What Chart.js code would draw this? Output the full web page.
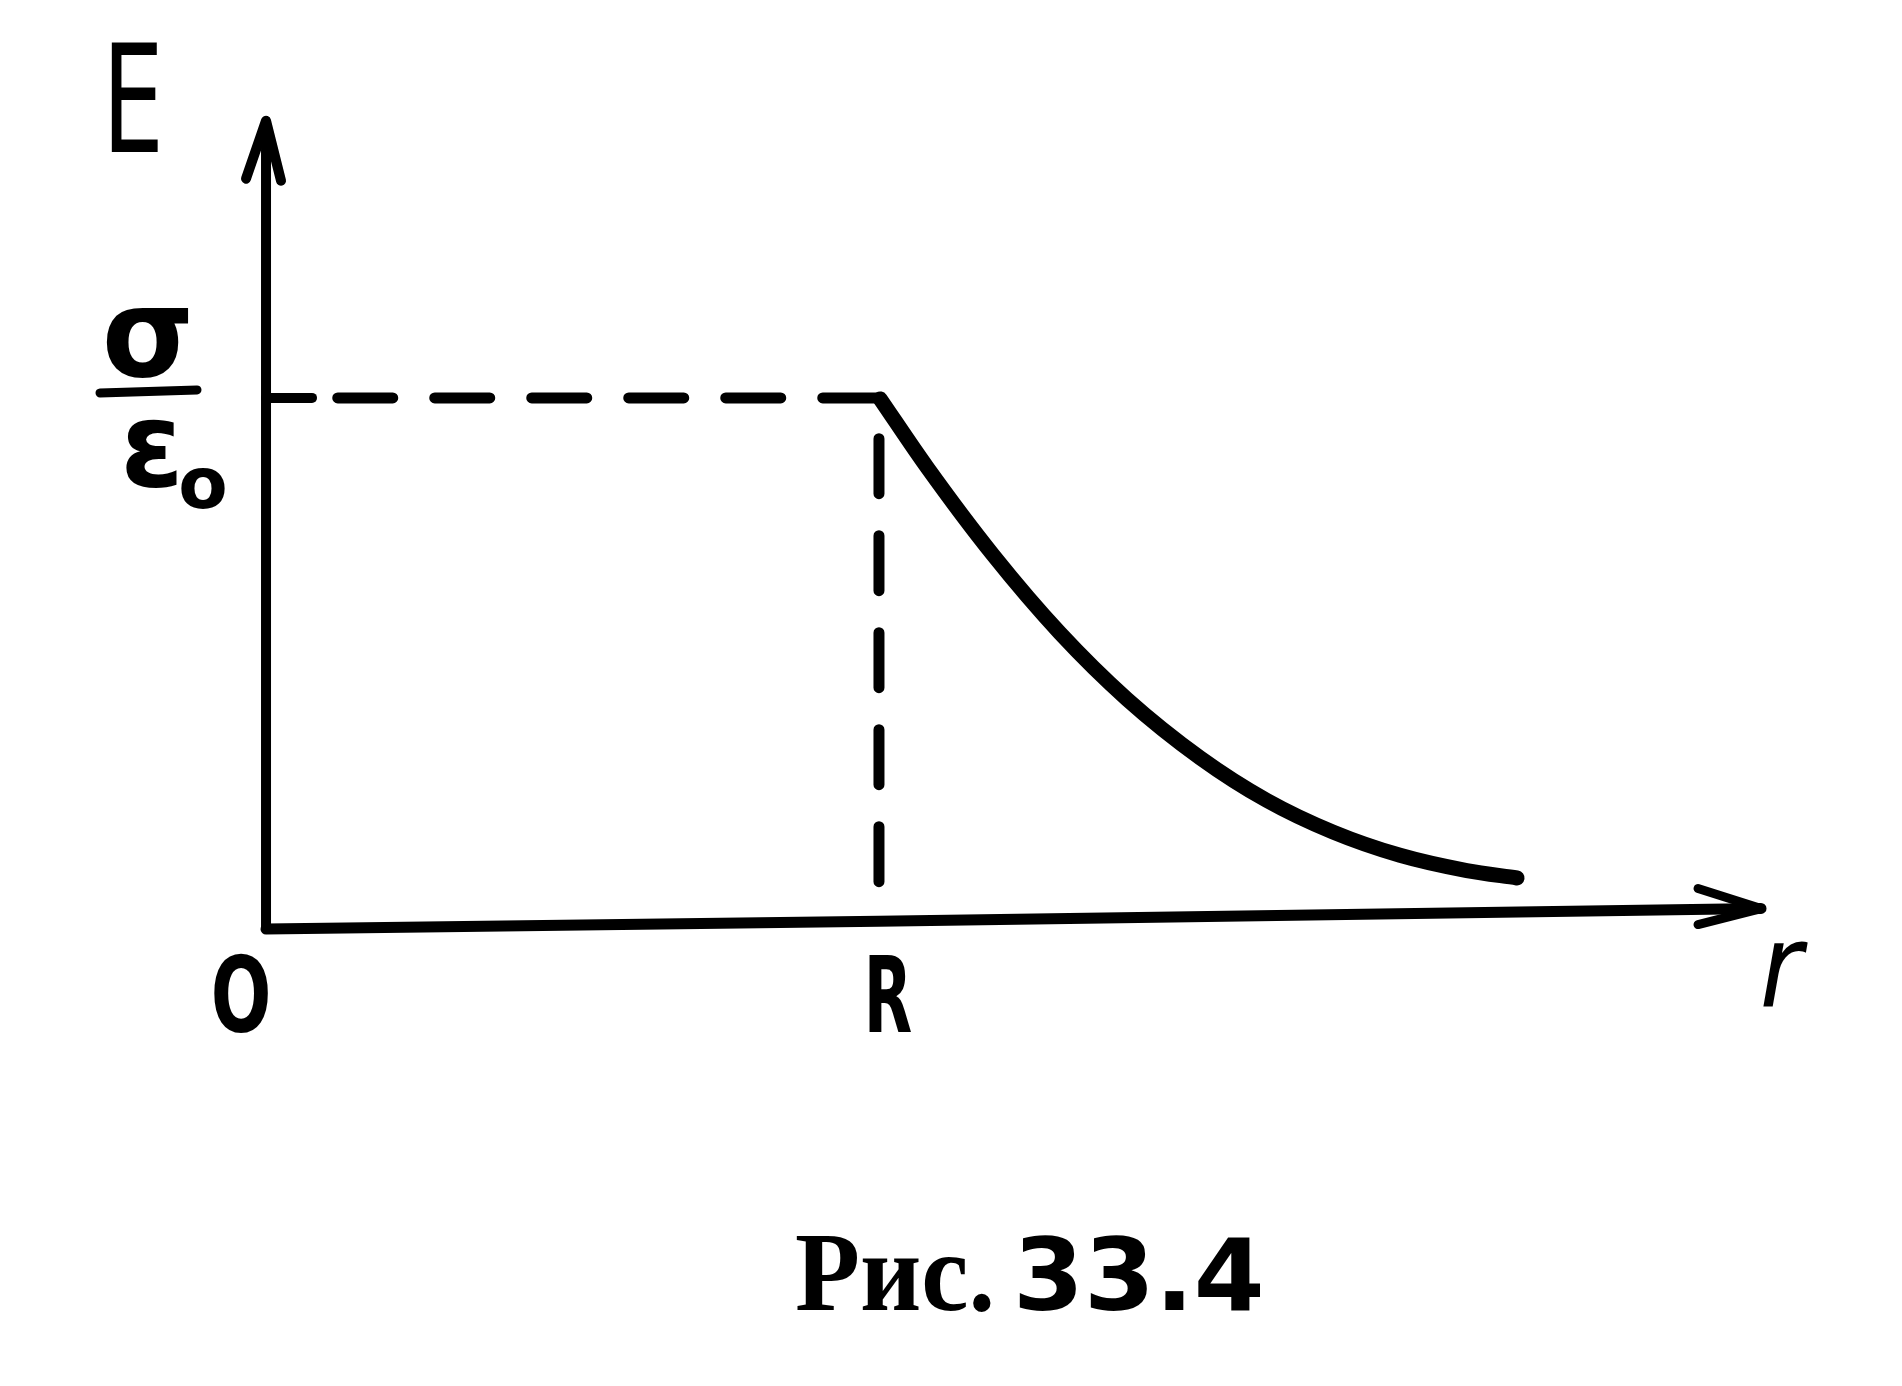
<!DOCTYPE html>
<html>
<head>
<meta charset="utf-8">
<script src="https://cdn.jsdelivr.net/npm/chart.js@4"></script>
<style>
html,body{margin:0;padding:0;background:#fff}
canvas{display:block}
</style>
</head>
<body>
<canvas id="plot" width="1902" height="1386"></canvas>
<script>
// r in units of R, E in units of sigma/eps0
const curveR=[1.002,1.078,1.186,1.295,1.405,1.524,1.633,1.741,1.850,1.959,2.041]
const curveE=[0.998,0.869,0.702,0.554,0.428,0.317,0.236,0.176,0.132,0.103,0.089]

const xAxisR=[0,1,2.439]
const xAxisE=[-0.008,0.007,0.031]
const yAxisTop=1.526

const xTickValues=[0,1]
const xTickLabels=["O","R"]
const axisNameX="r"
const axisNameY="E"
const levelTop="σ"
const levelBottom="ε"
const levelSub="o"
const captionA="Рис."
const captionB="33.4"

const ink="#000"

function pts(xs,ys){return xs.map((x,i)=>({x:x,y:ys[i]}))}

const decor={
id:"decor",
afterDatasetsDraw(chart){
const ctx=chart.ctx
const xs=chart.scales.x
const ys=chart.scales.y
ctx.save()
ctx.strokeStyle=ink
ctx.fillStyle=ink
ctx.lineCap="round"
ctx.lineJoin="round"

// y arrow
const tx=xs.getPixelForValue(0)
const ty=ys.getPixelForValue(yAxisTop)
ctx.lineWidth=10
ctx.beginPath()
ctx.moveTo(tx-20,ty+58)
ctx.lineTo(tx,ty)
ctx.lineTo(tx+15,ty+60)
ctx.stroke()

// x arrow
const last=xAxisR.length-1
const ax=xs.getPixelForValue(xAxisR[last])
const ay=ys.getPixelForValue(xAxisE[last])
ctx.lineWidth=9
ctx.beginPath()
ctx.moveTo(ax-63,ay-20)
ctx.lineTo(ax,ay)
ctx.lineTo(ax-63,ay+16)
ctx.stroke()

// tick at sigma/eps0 level
ctx.lineWidth=10
ctx.beginPath()
ctx.moveTo(tx,ys.getPixelForValue(1))
ctx.lineTo(tx+46,ys.getPixelForValue(1))
ctx.stroke()

ctx.textAlign="center"
ctx.textBaseline="alphabetic"

function txt(s,x,y,font,sx){
ctx.save()
ctx.translate(x,y)
ctx.scale(sx||1,1)
ctx.font=font
ctx.fillText(s,0,0)
ctx.restore()
}

// axis names
txt(axisNameY,tx-133,152,"150px 'DejaVu Sans'",0.65)
txt(axisNameX,ax+20,1007,"italic 115px 'DejaVu Sans'",0.9)

// tick labels
const base=ys.getPixelForValue(0)
xTickValues.forEach((v,i)=>{
const px=xs.getPixelForValue(v)
txt(xTickLabels[i],px+(i===0?-25:9),base+107,"bold 105px 'DejaVu Sans'",i===0?0.68:0.6)
})

// sigma / eps0
const ly=ys.getPixelForValue(1)
txt(levelTop,148,ly-22,"bold 125px 'DejaVu Sans'",0.95)
ctx.lineWidth=9
ctx.beginPath()
ctx.moveTo(100,ly-5)
ctx.lineTo(197,ly-8)
ctx.stroke()
txt(levelBottom,152,ly+88,"bold 120px 'DejaVu Sans'",0.95)
txt(levelSub,203,ly+110,"bold 72px 'DejaVu Sans'",1)

// caption
ctx.textAlign="left"
txt(captionA,795,1310,"bold 112px 'Liberation Serif'",0.95)
txt(captionB,1013,1310,"bold 100px 'DejaVu Sans'",1.02)

ctx.restore()
}
}

new Chart(document.getElementById("plot"),{
type:"scatter",
data:{
datasets:[
{
data:pts(xAxisR,xAxisE),
showLine:true,
borderColor:ink,
borderWidth:11,
borderCapStyle:"round",
pointRadius:0,
tension:0
},
{
data:[{x:0,y:xAxisE[0]},{x:0,y:yAxisTop}],
showLine:true,
borderColor:ink,
borderWidth:10,
pointRadius:0
},
{
data:[{x:0.117,y:1},{x:1,y:1},{x:1,y:xAxisE[1]}],
showLine:true,
borderColor:ink,
borderWidth:11,
borderDash:[55,42],
borderCapStyle:"round",
pointRadius:0
},
{
data:pts(curveR,curveE),
showLine:true,
borderColor:ink,
borderWidth:15,
borderCapStyle:"round",
cubicInterpolationMode:"monotone",
pointRadius:0
}
]
},
options:{
responsive:false,
animation:false,
events:[],
layout:{padding:0},
plugins:{legend:{display:false},tooltip:{enabled:false}},
scales:{
x:{type:"linear",display:false,min:-0.434,max:2.669},
y:{type:"linear",display:false,min:-0.875,max:1.755}
}
},
plugins:[decor]
})
</script>
</body>
</html>
